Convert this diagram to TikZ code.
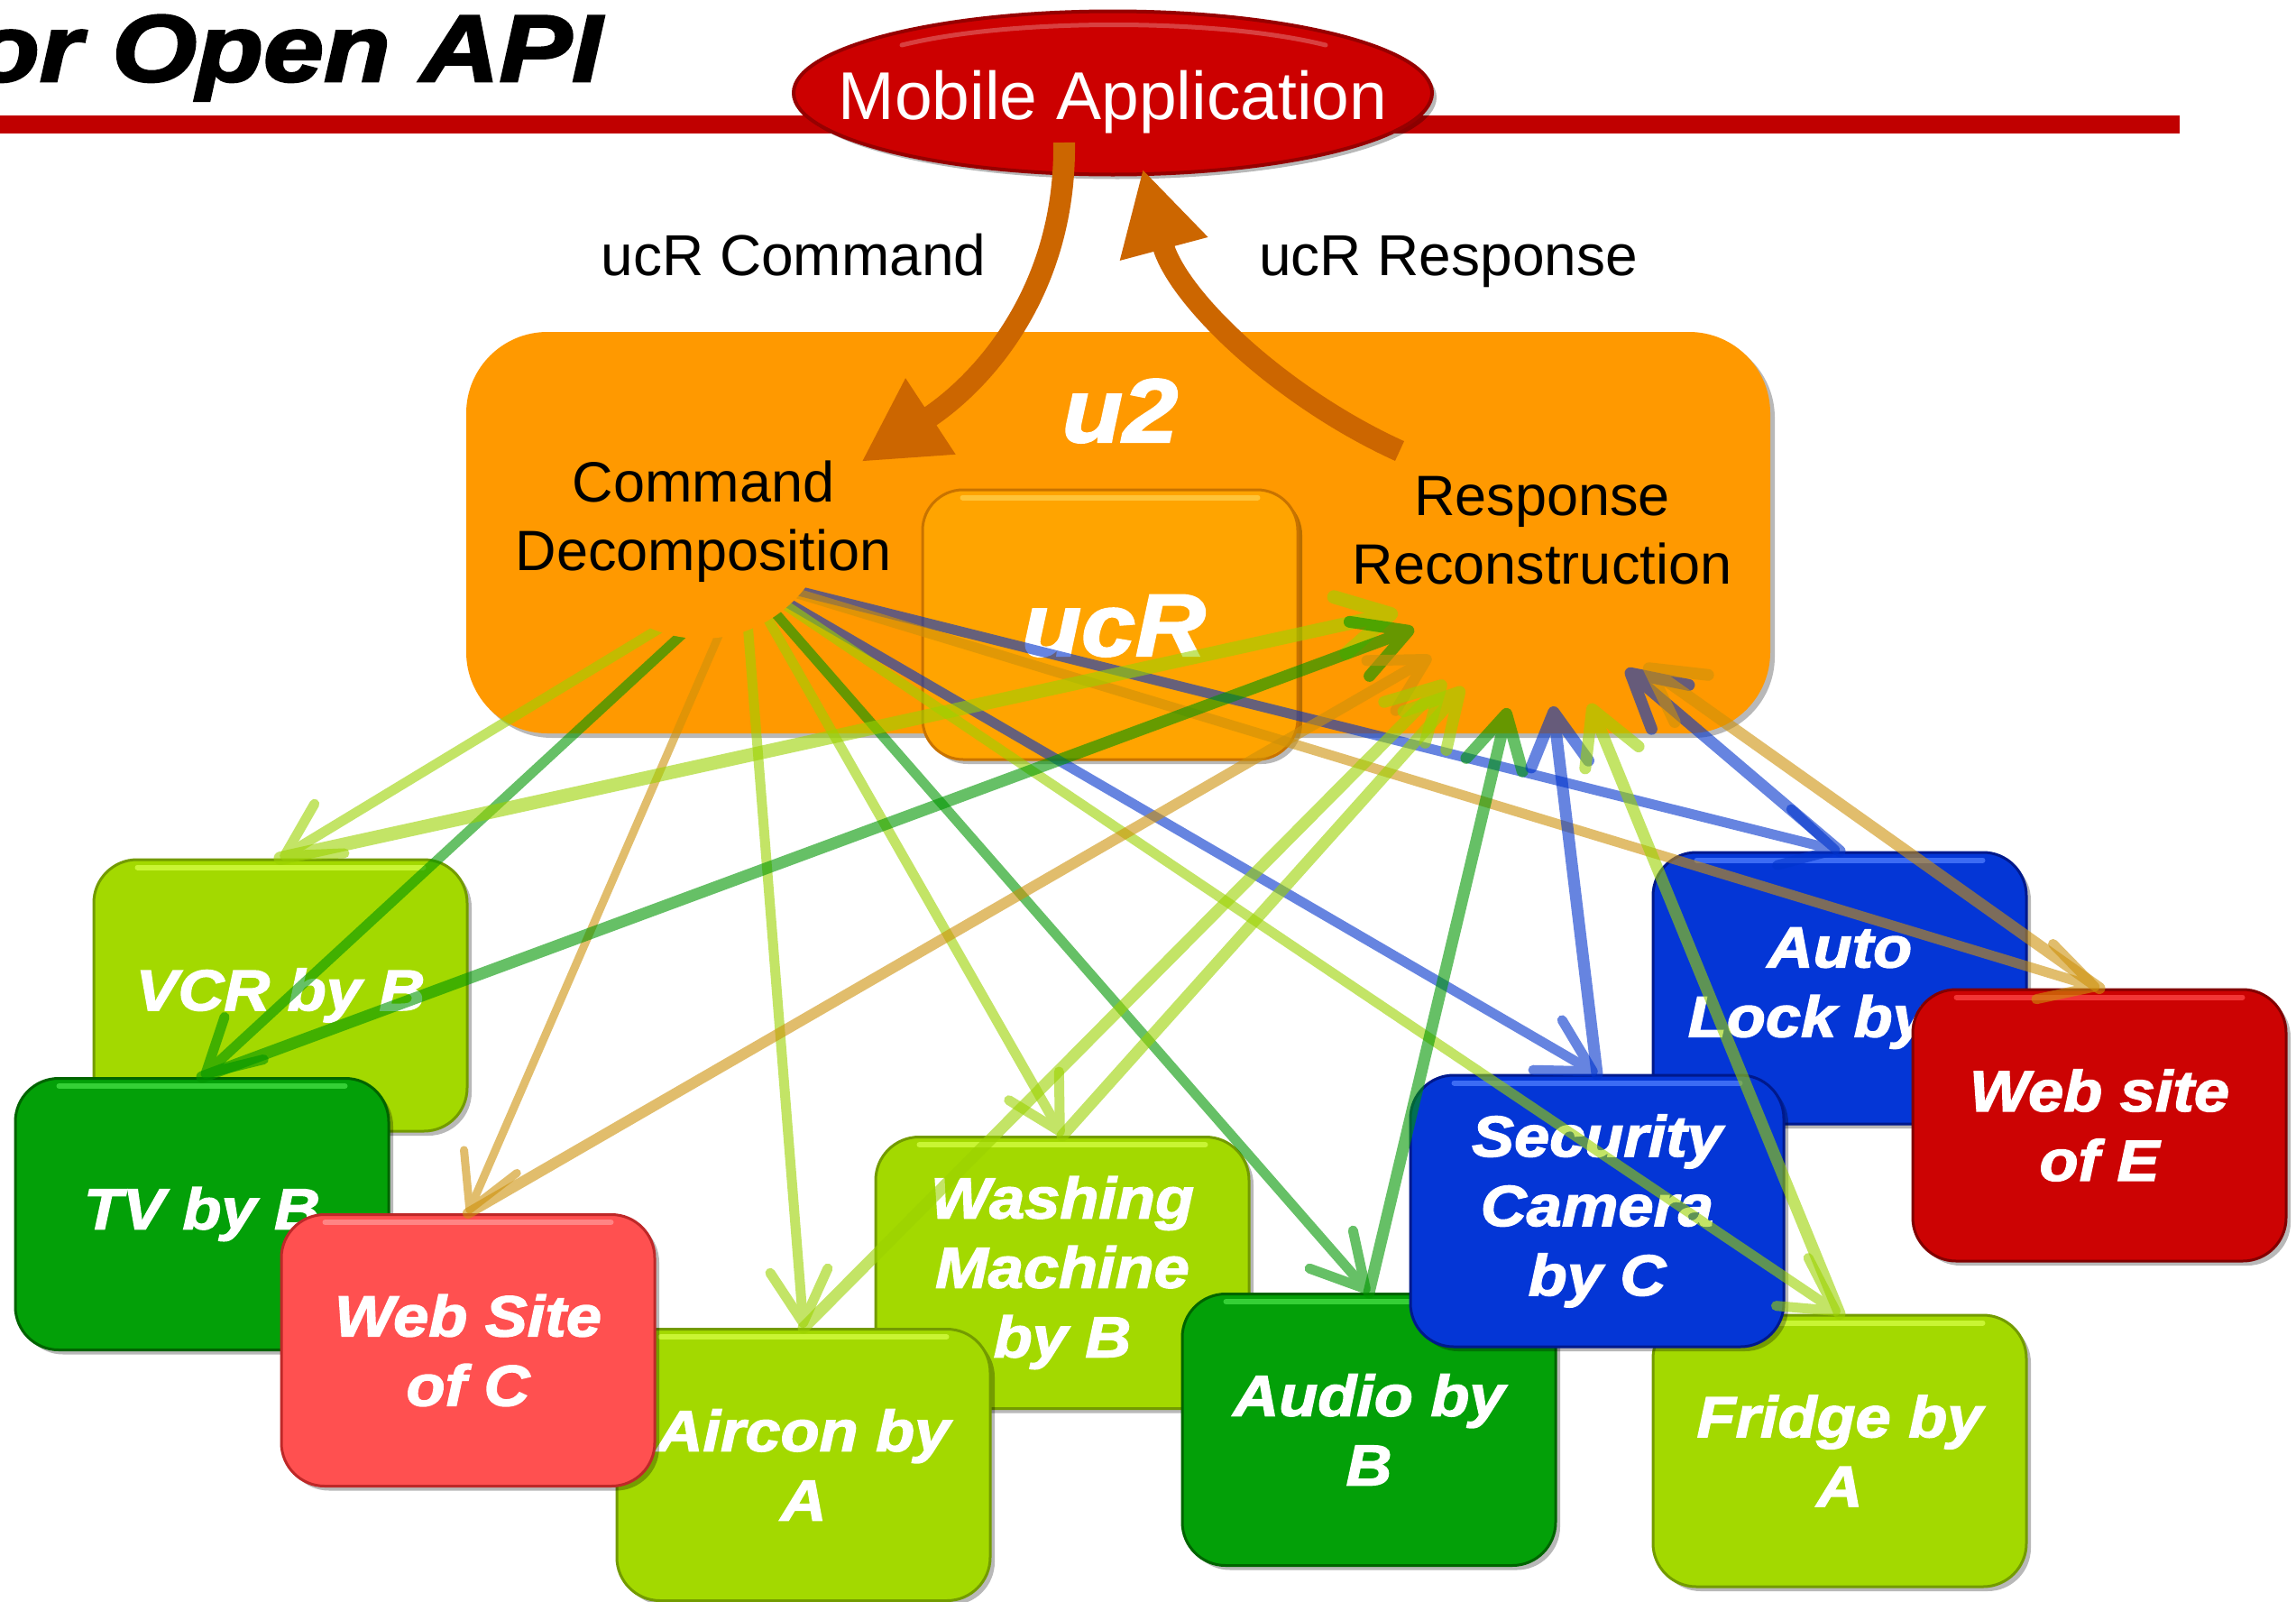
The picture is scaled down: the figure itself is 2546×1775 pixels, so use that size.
\documentclass[tikz,border=0pt]{standalone}
\usepackage{fontspec}
\setmainfont{Liberation Sans}
\newfontfamily\labelfont[FakeStretch=1.1,FakeBold=2.2]{Liberation Sans}
\newfontfamily\titlefont[FakeStretch=1.15,FakeBold=2.6]{Liberation Sans}
\usetikzlibrary{arrows.meta,shapes.geometric,shadows,calc}

% palette
\definecolor{lgreen}{RGB}{163,217,0}
\definecolor{lgreenEdge}{RGB}{115,155,0}
\definecolor{lgreenHi}{RGB}{215,255,70}
\definecolor{dgreen}{RGB}{3,160,8}
\definecolor{dgreenEdge}{RGB}{0,100,0}
\definecolor{dgreenHi}{RGB}{70,225,70}
\definecolor{dblue}{RGB}{4,54,214}
\definecolor{dblueEdge}{RGB}{0,25,140}
\definecolor{dblueHi}{RGB}{80,125,255}
\definecolor{redE}{RGB}{204,3,3}
\definecolor{redEEdge}{RGB}{130,0,0}
\definecolor{redEHi}{RGB}{255,70,70}
\definecolor{redC}{RGB}{255,80,80}
\definecolor{redCEdge}{RGB}{190,40,40}
\definecolor{redCHi}{RGB}{255,150,150}
\definecolor{u2orange}{RGB}{255,153,0}
\definecolor{ucrorange}{RGB}{255,164,0}
\definecolor{ucredge}{RGB}{200,115,0}
\definecolor{ucrhi}{RGB}{255,205,70}
\definecolor{flowbrown}{RGB}{204,102,0}
\definecolor{rulered}{RGB}{192,0,0}
\definecolor{appred}{RGB}{204,0,0}
\definecolor{appedge}{RGB}{150,0,0}
\definecolor{linktan}{RGB}{205,145,10}
\definecolor{linkblue}{RGB}{0,51,204}
\definecolor{linkdgreen}{RGB}{0,150,0}
\definecolor{linklgreen}{RGB}{155,210,0}

\tikzset{
  softshadow/.style={drop shadow={shadow xshift=5pt,shadow yshift=-5pt,opacity=.28,fill=black}},
  device/.style={rectangle, rounded corners=48pt, minimum width=414pt, minimum height=301pt,
    inner sep=0pt, line width=3pt, align=center, text=white,
    font=\labelfont\bfseries\itshape\fontsize{64}{77}\selectfont, softshadow},
  plaintext/.style={inner sep=0pt, align=center, font=\fontsize{63}{76}\selectfont},
  bigflow/.style={line width=24pt, draw=flowbrown, -{Triangle[length=92pt,width=94pt]}},
  link/.style={line cap=round, -{Straight Barb[length=58pt,width=64pt,round]}},
}

% rounded device box with a glossy rim along its top edge
\newcommand\devicebox[7]{%
  \node[device, fill=#4, draw=#5] (#1) at (#2,#3) {#7};
  \draw[line width=6pt, draw=#6, line cap=round, opacity=.75]
    ($(#1.north west)+(50,10)$) -- ($(#1.north east)+(-50,10)$);
}

% translucent message arrow: width, colour, from, to
\newcommand\linkflow[4]{%
  \begin{scope}[transparency group, opacity=.6]
    \draw[link, line width=#1, draw=#2] (#3) -- (#4);
  \end{scope}}

\begin{document}
\begin{tikzpicture}[x=1pt,y=-1pt]
\useasboundingbox (0,0) rectangle (2546,1775);
\fill[white] (0,0) rectangle (2546,1775);

% heading and rule
\node[anchor=base east, inner sep=0pt, font=\titlefont\bfseries\itshape\fontsize{105}{110}\selectfont]
  (title) at (668,90) {or Open API};
\fill[rulered] (0,128) rectangle (2417,148);

% mobile application
\node[ellipse, minimum width=708pt, minimum height=181pt, inner sep=0pt,
  fill=appred, draw=appedge, line width=4pt, softshadow] (mobile) at (1234,103) {};
\draw[line width=5pt, draw=white, opacity=.25, line cap=round]
  (1000,50) .. controls (1120,20) and (1350,20) .. (1470,50);
\node[anchor=base, text=white, inner sep=0pt, font=\fontsize{75}{80}\selectfont]
  (mobiletext) at (1234,132) {Mobile Application};

% u2 gateway and ucR core
\node[rectangle, rounded corners=90pt, minimum width=1446pt, minimum height=445pt,
  inner sep=0pt, fill=u2orange, softshadow] (u2) at (1240,590.5) {};
\node[rectangle, rounded corners=45pt, minimum width=416pt, minimum height=299pt,
  inner sep=0pt, fill=ucrorange, draw=ucredge, line width=3pt, softshadow] (ucr) at (1231,692.5) {};
\draw[line width=6pt, draw=ucrhi, line cap=round, opacity=.8]
  ($(ucr.north west)+(46,10)$) -- ($(ucr.north east)+(-46,10)$);

% command / response flows between application and u2
\coordinate (cmdtail) at (1180,158);
\coordinate (cmdtip) at (955,512);
\coordinate (resptail) at (1552,500);
\coordinate (resptip) at (1267,187);
\draw[bigflow] (cmdtail) .. controls (1182,320) and (1092,422) .. (cmdtip);
\draw[bigflow] (resptail) .. controls (1420,440) and (1305,330) .. (resptip);
\node[anchor=base, inner sep=0pt, font=\fontsize{64}{70}\selectfont] (cmdlabel) at (880,305) {ucR Command};
\node[anchor=base, inner sep=0pt, font=\fontsize{64}{70}\selectfont] (resplabel) at (1606,305) {ucR Response};

\node[anchor=base, inner sep=0pt, text=white, font=\labelfont\bfseries\itshape\fontsize{100}{100}\selectfont]
  (u2label) at (1242,490) {u2};
\node[anchor=base, inner sep=0pt, text=white, font=\labelfont\bfseries\itshape\fontsize{98}{100}\selectfont]
  (ucrlabel) at (1235,727) {ucR};

% devices, back to front
\devicebox{vcr}{311}{1103.5}{lgreen}{lgreenEdge}{lgreenHi}{VCR by B}
\devicebox{tv}{224}{1346}{dgreen}{dgreenEdge}{dgreenHi}{TV by B}
\devicebox{wash}{1178}{1411}{lgreen}{lgreenEdge}{lgreenHi}{Washing\\Machine\\by B}
\devicebox{aircon}{891}{1624}{lgreen}{lgreenEdge}{lgreenHi}{Aircon by\\A}
\devicebox{webc}{519}{1497}{redC}{redCEdge}{redCHi}{Web Site\\of C}
\devicebox{audio}{1518}{1585}{dgreen}{dgreenEdge}{dgreenHi}{Audio by\\B}
\devicebox{fridge}{2040}{1608.5}{lgreen}{lgreenEdge}{lgreenHi}{Fridge by\\A}
\devicebox{autolock}{2040}{1095.5}{dblue}{dblueEdge}{dblueHi}{Auto\\Lock by C}
\devicebox{security}{1771}{1342.5}{dblue}{dblueEdge}{dblueHi}{Security\\Camera\\by C}
\devicebox{webe}{2328}{1247.5}{redE}{redEEdge}{redEHi}{Web site\\of E}

% where the decomposed commands leave and the partial responses arrive
\coordinate (fan) at (825,640);
\coordinate (rx-vcr) at (1550,679);
\coordinate (rx-tv) at (1568,697);
\coordinate (rx-webc) at (1587,728);
\coordinate (rx-air) at (1603,755);
\coordinate (rx-wash) at (1623,762);
\coordinate (rx-audio) at (1672,785);
\coordinate (rx-sec) at (1722,783);
\coordinate (rx-fridge) at (1763,780);
\coordinate (rx-auto) at (1803,742);
\coordinate (rx-webe) at (1823,737);

% decomposed commands
\linkflow{11pt}{linklgreen}{fan}{vcr.north}
\linkflow{11pt}{linkdgreen}{fan}{tv.north}
\linkflow{9pt}{linktan}{fan}{webc.north}
\linkflow{11pt}{linklgreen}{fan}{aircon.north}
\linkflow{11pt}{linklgreen}{fan}{wash.north}
\linkflow{11pt}{linkdgreen}{fan}{audio.north}
\linkflow{11pt}{linkblue}{fan}{security.north}
\linkflow{11pt}{linkblue}{fan}{autolock.north}
\linkflow{11pt}{linktan}{fan}{webe.north}
\linkflow{11pt}{linklgreen}{fan}{fridge.north}

% partial responses
\linkflow{15pt}{linklgreen}{vcr.north}{rx-vcr}
\linkflow{13pt}{linkdgreen}{tv.north}{rx-tv}
\linkflow{12pt}{linktan}{webc.north}{rx-webc}
\linkflow{13pt}{linklgreen}{aircon.north}{rx-air}
\linkflow{13pt}{linklgreen}{wash.north}{rx-wash}
\linkflow{13pt}{linkdgreen}{audio.north}{rx-audio}
\linkflow{13pt}{linkblue}{security.north}{rx-sec}
\linkflow{13pt}{linklgreen}{fridge.north}{rx-fridge}
\linkflow{13pt}{linkblue}{autolock.north}{rx-auto}
\linkflow{13pt}{linktan}{webe.north}{rx-webe}

% orange patch hiding the common origin of the command arrows
\fill[u2orange] (778,563) circle[radius=145];

\node[plaintext] (decomp) at (780,578) {Command\\Decomposition};
\node[plaintext] (recon) at (1710,588) {Response\\Reconstruction};
\end{tikzpicture}
\end{document}
